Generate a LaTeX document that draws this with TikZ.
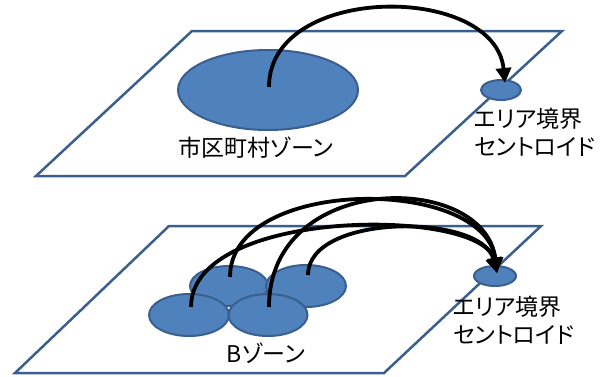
\documentclass[tikz,border=0pt]{standalone}
\usepackage{fontspec}
\setmainfont[RawFeature=+palt]{Noto Sans CJK JP}
\usetikzlibrary{shapes.geometric,arrows.meta}
\definecolor{zfill}{HTML}{4F81BD}
\definecolor{zline}{HTML}{3A5F8E}
\begin{document}
\begin{tikzpicture}[x=1pt,y=-1pt,
  plane/.style={draw=zline,line width=2.5pt,line join=miter},
  zone/.style={ellipse,draw=zline,line width=2pt,fill=zfill,inner sep=0pt,outer sep=0pt},
  flow/.style={line width=3.8pt,-{Triangle[length=15pt,width=15pt]}},
  lbl/.style={font=\fontsize{23}{28}\selectfont,inner sep=0pt}]
\useasboundingbox (0,0) rectangle (604,376);
% top plane
\draw[plane] (192,31) -- (562,31) -- (405,176) -- (36,176) -- cycle;
\node[zone,minimum width=180pt,minimum height=80pt] (city) at (268,90) {};
\node[zone,minimum width=40pt,minimum height=20pt] (cent1) at (501,90) {};
\coordinate (s0) at (269,87);
\coordinate (t0) at (505,83);
\draw[flow] (s0) .. controls +(0,-104) and +(-10,-100) .. (t0);
\node[lbl] (l1) at (256,148) {市区町村ゾーン};
\node[lbl,anchor=west] (l2) at (474,119) {エリア境界};
\node[lbl,anchor=west] (l3) at (474,147) {セントロイド};
% bottom plane
\draw[plane] (169,226) -- (541,226) -- (384,373) -- (15,373) -- cycle;
\node[zone,minimum width=78pt,minimum height=40pt] (bl) at (229,286) {};
\node[zone,minimum width=80pt,minimum height=42pt] (br) at (306,286) {};
\node[zone,minimum width=80pt,minimum height=42pt] (fl) at (189,315) {};
\node[zone,minimum width=79pt,minimum height=42pt] (fr) at (268,315) {};
\node[zone,minimum width=42pt,minimum height=20pt] (cent2) at (495,276) {};
\coordinate (a1) at (230,277);
\coordinate (a2) at (269,307);
\coordinate (a3) at (191,307);
\coordinate (a4) at (308,275);
\coordinate (t1) at (497,273);
\draw[flow] (a1) .. controls +(0,-101) and +(-12,-97) .. (t1);
\draw[flow] (a2) .. controls +(0,-136) and +(-12,-102) .. (t1);
\draw[flow] (a3) .. controls +(0,-100) and +(-15,-66) .. (t1);
\draw[flow] (a4) .. controls +(0,-62) and +(-15,-60) .. (t1);
\node[lbl] (l4) at (266,353) {Bゾーン};
\node[lbl,anchor=west] (l5) at (453,307) {エリア境界};
\node[lbl,anchor=west] (l6) at (453,335) {セントロイド};
\end{tikzpicture}
\end{document}
